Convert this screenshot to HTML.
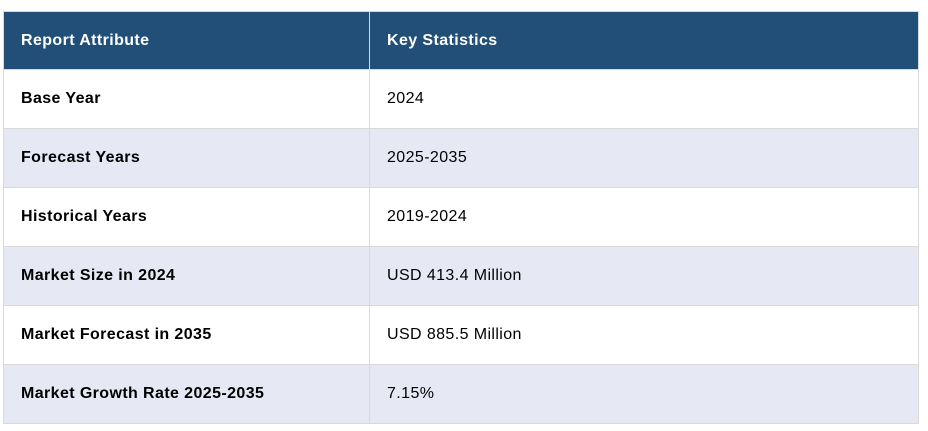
<!DOCTYPE html>
<html><head><style>
html,body{margin:0;padding:0;background:#fff;width:928px;height:431px;overflow:hidden}
table{position:absolute;left:3px;top:11px;width:916px;border-collapse:collapse;font-family:"Liberation Sans",Arial,sans-serif;font-size:16px;color:#000;letter-spacing:0.4px}
td,th{border:1px solid #dadada;padding:0 0 0 17px;height:58px;text-align:left;vertical-align:middle}
th{background:#214f78;color:#fff;font-weight:bold;height:57px}
td:first-child{font-weight:bold}
th:first-child,td:first-child{width:348px}
tr.a td{background:#e6e8f4}
</style></head><body>
<table>
<tr><th>Report Attribute</th><th>Key Statistics</th></tr>
<tr><td>Base Year</td><td>2024</td></tr>
<tr class="a"><td>Forecast Years</td><td>2025-2035</td></tr>
<tr><td>Historical Years</td><td>2019-2024</td></tr>
<tr class="a"><td>Market Size in 2024</td><td>USD 413.4 Million</td></tr>
<tr><td>Market Forecast in 2035</td><td>USD 885.5 Million</td></tr>
<tr class="a"><td>Market Growth Rate 2025-2035</td><td>7.15%</td></tr>
</table>
</body></html>
